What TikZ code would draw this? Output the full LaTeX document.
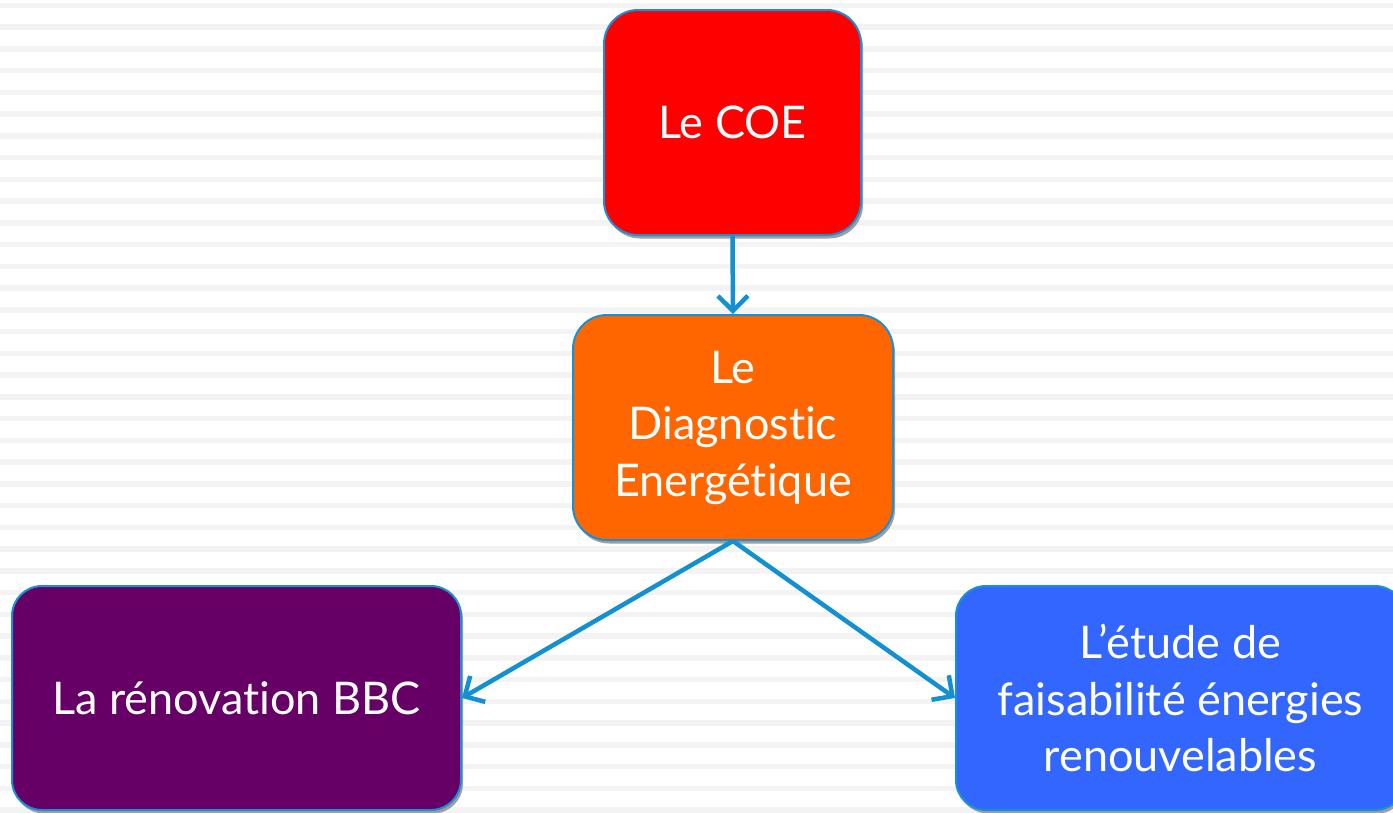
\documentclass[tikz,border=0pt]{standalone}
\usepackage{fontspec}
\setmainfont[Ligatures={NoCommon}]{Lato}
\usetikzlibrary{arrows.meta,shadows}
\definecolor{stripe}{HTML}{F3F3F3}
\definecolor{edge}{HTML}{1B8FD4}
\definecolor{arr}{HTML}{1290D2}
\definecolor{cred}{HTML}{FF0000}
\definecolor{corange}{HTML}{FF6600}
\definecolor{cpurple}{HTML}{660066}
\definecolor{cblue}{HTML}{3366FF}
\tikzset{
  box/.style={draw=edge, line width=2pt, rounded corners=34pt, text=white,
    align=center, inner sep=0pt,
    font=\fontsize{45}{56.5}\selectfont,
    drop shadow={shadow xshift=2pt, shadow yshift=-3.5pt, fill=gray!75, opacity=1}},
  link/.style={draw=arr, line width=4.5pt, -{Straight Barb[length=15pt,width=30pt,line width=4.5pt]}}
}
\begin{document}
\begin{tikzpicture}[x=1pt,y=-1pt]
\useasboundingbox (0,0) rectangle (1393,812);
\clip (0,0) rectangle (1393,812);
\fill[white] (0,0) rectangle (1393,812);
\foreach \i in {0,...,37}{
  \fill[stripe] (0,{2.5+21.75*\i}) rectangle (1393,{8+21.75*\i});
}
\node[box, fill=cred, minimum width=257pt, minimum height=225pt] (coe) at (732.5,122.5) {Le COE};
\node[box, fill=corange, minimum width=320pt, minimum height=225pt] (diag) at (733,427.5) {Le\\Diagnostic\\Energétique};
\node[box, fill=cpurple, rounded corners=30pt, minimum width=449pt, minimum height=224pt] (bbc) at (236.5,698) {La rénovation BBC};
\node[box, fill=cblue, rounded corners=30pt, minimum width=449pt, minimum height=224pt] (enr) at (1180.5,698) {L’étude de\\faisabilité énergies\\renouvelables};
\draw[link] (coe.south) -- (diag.north);
\draw[link] (diag.south) -- (bbc.east);
\draw[link] (diag.south) -- (enr.west);
\end{tikzpicture}
\end{document}
